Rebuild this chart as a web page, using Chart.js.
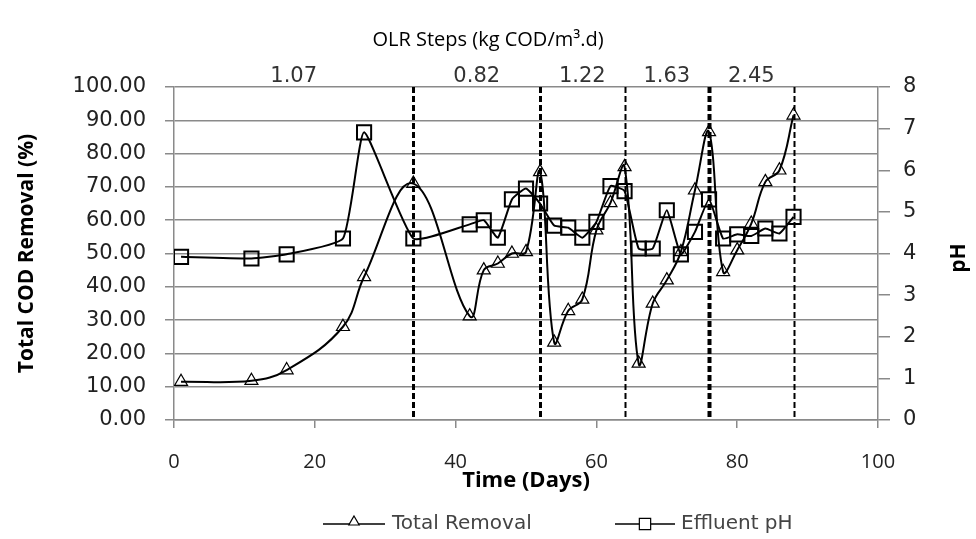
<!DOCTYPE html>
<html><head><meta charset="utf-8">
<script src="https://cdn.jsdelivr.net/npm/chart.js@4.4.0/dist/chart.umd.min.js"></script>
<style>html,body{margin:0;padding:0;background:#fff}#wrap{width:976px;height:539px}</style>
</head><body><div id="wrap"><canvas id="c" width="976" height="539"></canvas></div>
<script>
const days = [1,11,16,24,27,34,42,44,46,48,50,52,54,56,58,60,62,64,66,68,70,72,74,76,78,80,82,84,86,88];
const totalRemoval = [11.5,11.8,15,28,43,71,31.2,45,47,50,50.5,74.5,23.3,32.8,36.2,57,65.2,76,17,35,42,50.5,69,86.5,44.5,51,59,71.5,75,91.5];
const effluentPH = [3.92,3.88,3.98,4.36,6.91,4.36,4.70,4.80,4.38,5.30,5.56,5.20,4.67,4.62,4.38,4.76,5.62,5.50,4.12,4.12,5.04,3.98,4.52,5.30,4.36,4.46,4.42,4.60,4.48,4.88];
const olrStepEnds = [34,52,64,76,88];
const olrStepLabels = ['1.07','0.82','1.22','1.63','2.45'];
const seriesNames = ['Total Removal','Effluent pH'];

const pts = ys => days.map((d,i)=>({x:d,y:ys[i]}));
const TICKFONT = {family:'"DejaVu Sans"', size:21};
const GRID = '#8a8a8a';

const overlay = {
  id:'overlay',
  afterDatasetsDraw(chart){
    const {ctx, chartArea:a, scales:{x}} = chart;
    const widths = [3,3,2,4,2];
    ctx.save();
    ctx.strokeStyle = '#000';
    ctx.setLineDash([6,3]);
    olrStepEnds.forEach((d,i)=>{
      const px = Math.round(x.getPixelForValue(d)) + 0.5;
      ctx.lineWidth = widths[i];
      ctx.beginPath(); ctx.moveTo(px,a.top); ctx.lineTo(px,a.bottom); ctx.stroke();
    });
    ctx.setLineDash([]);
    ctx.font = '21px "DejaVu Sans"';
    ctx.fillStyle = '#333';
    ctx.textAlign = 'center'; ctx.textBaseline = 'middle';
    olrStepLabels.forEach((t,i)=>{
      const start = i===0 ? 0 : olrStepEnds[i-1];
      const mid = (start + olrStepEnds[i]) / 2;
      ctx.fillText(t, x.getPixelForValue(mid), a.top - 10);
    });
    ctx.restore();
  },
  afterDraw(chart){
    const ctx = chart.ctx;
    ctx.save();
    ctx.translate(959, 258); ctx.rotate(-Math.PI/2);
    ctx.font = 'bold 21px "Open Sans"'; ctx.fillStyle = '#000';
    ctx.textAlign = 'center'; ctx.textBaseline = 'middle';
    ctx.fillText('pH', 0, 0);
    ctx.restore();
    ctx.save();
    const y = 524;
    const items = [
      {x0:323, x1:385, style:'triangle', r:6, tx:392},
      {x0:615, x1:675, style:'rect', r:8, tx:681}
    ];
    items.forEach((it,i)=>{
      ctx.strokeStyle = '#000'; ctx.lineWidth = 1.5;
      ctx.beginPath(); ctx.moveTo(it.x0, y); ctx.lineTo(it.x1, y); ctx.stroke();
      ctx.fillStyle = '#fff'; ctx.lineWidth = 1.2;
      Chart.helpers.drawPoint(ctx, {pointStyle:it.style, radius:it.r, borderWidth:1.2, rotation:0}, (it.x0+it.x1)/2, it.style==='triangle'? y-2 : y);
      ctx.fillStyle = '#444';
      ctx.font = '20px "DejaVu Sans"';
      ctx.textAlign = 'left'; ctx.textBaseline = 'middle';
      ctx.fillText(seriesNames[i], it.tx, y);
    });
    ctx.restore();
  }
};

new Chart(document.getElementById('c'), {
  type:'line',
  data:{datasets:[
    {label:seriesNames[0], data:pts(totalRemoval), yAxisID:'y', borderColor:'#000', borderWidth:2, tension:0.4,
     pointStyle:'triangle', pointRadius:7.5, pointBorderColor:'#000', pointBackgroundColor:'rgba(0,0,0,0)', pointBorderWidth:1.2},
    {label:seriesNames[1], data:pts(effluentPH), yAxisID:'y2', borderColor:'#000', borderWidth:2, tension:0.15,
     pointStyle:'rect', pointRadius:10, pointBorderColor:'#000', pointBackgroundColor:'rgba(0,0,0,0)', pointBorderWidth:2}
  ]},
  options:{
    responsive:false, animation:false, devicePixelRatio:1,
    layout:{padding:{left:0,right:0,top:0,bottom:45}},
    plugins:{
      legend:{display:false}, tooltip:{enabled:false},
      title:{display:true, text:'OLR Steps (kg COD/m³.d)', color:'#000',
        font:{family:'"Open Sans"', size:20, weight:'normal'}, padding:{top:28,bottom:35}}
    },
    scales:{
      x:{type:'linear', min:0, max:100,
        ticks:{stepSize:20, color:'#222', font:{family:'"Open Sans"', size:20}, padding:22, maxRotation:0},
        grid:{drawOnChartArea:false, tickLength:8, color:GRID, lineWidth:1.5},
        border:{color:GRID, width:1.5},
        title:{display:true, text:'Time (Days)', color:'#000', font:{family:'"Open Sans"', size:22, weight:'bold'}, padding:{top:0,bottom:0}},
        afterFit:s=>{s.height=74;}},
      y:{position:'left', min:0, max:100,
        ticks:{stepSize:10, color:'#222', font:TICKFONT, padding:19, callback:v=>Number(v).toFixed(2)},
        grid:{color:GRID, lineWidth:1.5, tickLength:9},
        border:{color:GRID, width:1.5},
        title:{display:true, text:'Total COD Removal (%)', color:'#000', font:{family:'"Open Sans"', size:21, weight:'bold'}, padding:{top:14,bottom:0}},
        afterFit:s=>{s.width=174;}},
      y2:{position:'right', min:0, max:8,
        ticks:{stepSize:1, color:'#222', font:TICKFONT, padding:13},
        grid:{drawOnChartArea:false, tickLength:12, color:GRID, lineWidth:1.5},
        border:{color:GRID, width:1.5},
        afterFit:s=>{s.width=98;}}
    }
  },
  plugins:[overlay]
});
</script></body></html>
